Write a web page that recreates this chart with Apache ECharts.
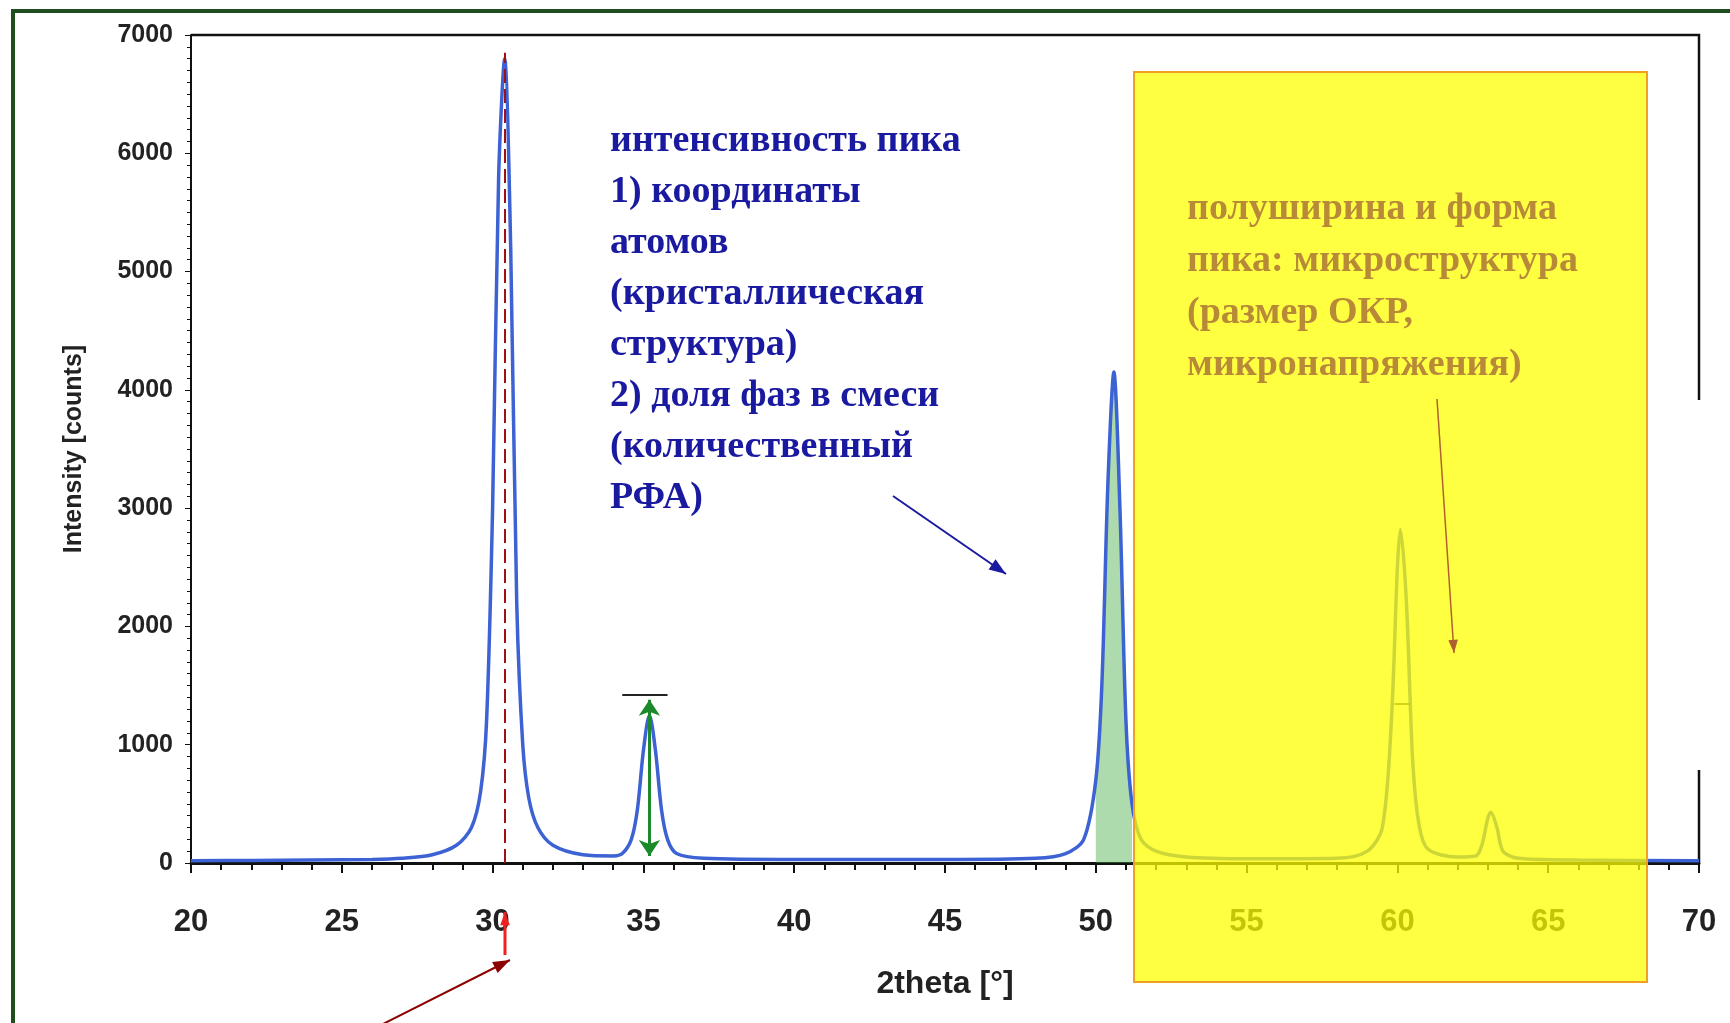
<!DOCTYPE html>
<html><head><meta charset="utf-8">
<script src="https://cdn.jsdelivr.net/npm/echarts@6/dist/echarts.min.js"></script>
<style>html,body{margin:0;padding:0;background:#fff}#c{width:1730px;height:1023px}</style>
</head><body><div id="c"></div>
<script>
const twoTheta = [20,22,24,26,27,28,28.8,29.3,29.6,29.8,30.0,30.2,30.4,30.6,30.8,31.0,31.2,31.5,32,33,34,34.3,34.6,34.8,35.0,35.2,35.4,35.6,35.8,36.1,37,40,45,48,49,49.6,50.0,50.2,50.4,50.6,50.8,51.0,51.2,51.5,52,53,55,58,59,59.5,59.8,60.0,60.1,60.3,60.5,60.7,61.0,62,62.6,62.8,63.0,63.1,63.3,63.5,64,66,70];
const intensity = [20,22,25,30,40,70,150,300,600,1200,3000,5800,6800,5200,2200,1000,550,300,150,70,60,80,200,450,950,1250,950,450,200,80,40,30,30,40,80,200,700,1500,3200,4150,3000,1200,500,200,100,50,35,40,100,300,1200,2500,2820,2200,900,350,120,50,60,150,380,430,300,100,40,25,20];
const xTicks = [20,25,30,35,40,45,50,55,60,65,70];
const blueLines = ['интенсивность пика','1) координаты','атомов','(кристаллическая','структура)','2) доля фаз в смеси','(количественный','РФА)'];
const orangeLines = ['полуширина и форма','пика: микроструктура','(размер ОКР,','микронапряжения)'];

const data = twoTheta.map((x,i)=>[x,intensity[i]]);
const hatch = data.filter(d=>d[0]>=49.8 && d[0]<=51.2);
const chart = echarts.init(document.getElementById('c'));
const g = [];
g.push({type:'rect',shape:{x:13,y:11,width:1740,height:1040},style:{fill:'none',stroke:'#1e4d1e',lineWidth:4},z:1});
g.push({type:'polyline',shape:{points:[[191,35],[1699,35],[1699,400]]},style:{fill:'none',stroke:'#111',lineWidth:2.5},z:1});
g.push({type:'line',shape:{x1:1699,y1:770,x2:1699,y2:863},style:{stroke:'#111',lineWidth:2.5},z:1});
blueLines.forEach((t,i)=>g.push({type:'text',left:610,top:122+i*51,style:{text:t,font:'bold 38px "Liberation Serif"',fill:'#1a1aa0'},z:20}));
g.push({type:'rect',shape:{x:1134,y:72,width:513,height:910},style:{fill:'rgba(255,255,0,0.74)',stroke:'#f0a020',lineWidth:2},z:15});
orangeLines.forEach((t,i)=>g.push({type:'text',left:1187,top:190+i*52,style:{text:t,font:'bold 38px "Liberation Serif"',fill:'#b88a38'},z:20}));
function arrow(x1,y1,x2,y2,c,w,h){
  const a=Math.atan2(y2-y1,x2-x1),L=h||16;
  g.push({type:'line',shape:{x1,y1,x2,y2},style:{stroke:c,lineWidth:w},z:21});
  g.push({type:'polygon',shape:{points:[[x2,y2],[x2-L*Math.cos(a-0.35),y2-L*Math.sin(a-0.35)],[x2-L*Math.cos(a+0.35),y2-L*Math.sin(a+0.35)]]},style:{fill:c},z:21});
}
arrow(893,496,1006,574,'#1a1aa0',2,18);
arrow(1437,399,1454,653,'#b06030',1.5,14);
arrow(381,1025,510,960,'#8b0000',2,18);
arrow(505,955,505,912,'#ee2020',3,14);

chart.setOption({
  animation:false,
  grid:{left:191,right:31,top:35,bottom:160},
  xAxis:{type:'value',min:20,max:70,interval:5,name:'2theta [°]',nameLocation:'middle',nameGap:105,
    nameTextStyle:{fontFamily:'Liberation Sans',fontWeight:'bold',fontSize:32,color:'#222'},
    axisLine:{lineStyle:{color:'#111',width:3}},axisTick:{length:10,inside:false,lineStyle:{color:'#111',width:2}},
    minorTick:{show:true,splitNumber:5,length:7,lineStyle:{color:'#111',width:2}},
    axisLabel:{margin:44,fontFamily:'Liberation Sans',fontWeight:'bold',fontSize:31,color:'#222',formatter:v=>xTicks.includes(v)?String(v):''},
    splitLine:{show:false}},
  yAxis:{type:'value',min:0,max:7000,interval:1000,name:'Intensity [counts]',nameLocation:'middle',nameGap:104,
    nameTextStyle:{fontFamily:'Liberation Sans',fontWeight:'bold',fontSize:25,color:'#222'},
    axisLine:{show:true,lineStyle:{color:'#111',width:2}},axisTick:{length:6,lineStyle:{color:'#111'}},
    minorTick:{show:true,splitNumber:10,length:4,lineStyle:{color:'#111'}},
    axisLabel:{margin:18,fontFamily:'Liberation Sans',fontWeight:'bold',fontSize:25,color:'#222',formatter:v=>String(v)},
    splitLine:{show:false}},
  graphic:g,
  series:[
    {type:'line',data:hatch,symbol:'none',lineStyle:{width:0},areaStyle:{color:'rgba(60,170,60,0.6)'},z:2},
    {type:'line',data:data,smooth:0.3,symbol:'none',lineStyle:{color:'#3d62d4',width:3.5},z:3,
      markLine:{symbol:'none',silent:true,label:{show:false},data:[
        [{coord:[30.4,0],lineStyle:{color:'#a01010',type:[14,6],width:2}},{coord:[30.4,6850]}],
        [{coord:[34.3,1420],lineStyle:{color:'#222',type:'solid',width:2}},{coord:[35.8,1420]}],
        [{coord:[59.9,1350],lineStyle:{color:'#222',type:'solid',width:1.5}},{coord:[60.4,1350]}]
      ]}},
    {type:'lines',coordinateSystem:'cartesian2d',symbol:['arrow','arrow'],symbolSize:16,z:4,
      lineStyle:{color:'#1b8a2a',width:3,opacity:1},data:[{coords:[[35.2,60],[35.2,1380]]}]}
  ]
});
</script></body></html>
